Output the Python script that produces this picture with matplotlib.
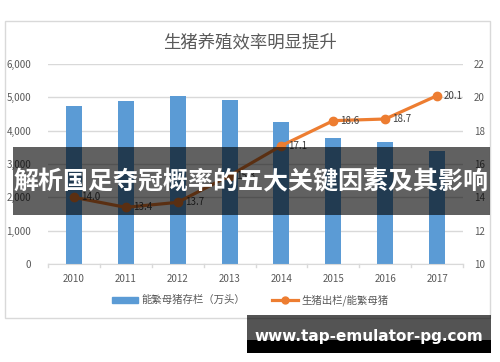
import matplotlib
matplotlib.use("Agg")
import matplotlib.pyplot as plt
from matplotlib.patches import Rectangle
from matplotlib.lines import Line2D
from matplotlib.patches import Patch

plt.rcParams['font.family'] = ['Noto Sans CJK SC', 'DejaVu Sans']

years = ['2010', '2011', '2012', '2013', '2014', '2015', '2016', '2017']
sows = [4740, 4890, 5040, 4920, 4260, 3790, 3650, 3390]
ratio = [14.0, 13.4, 13.7, 15.3, 17.1, 18.6, 18.7, 20.1]
left_ticks = [0, 1000, 2000, 3000, 4000, 5000, 6000]
right_ticks = [10, 12, 14, 16, 18, 20, 22]
title = '生猪养殖效率明显提升'
bar_label = '能繁母猪存栏（万头）'
line_label = '生猪出栏/能繁母猪'
banner = '解析国足夺冠概率的五大关键因素及其影响'
watermark = 'www.tap-emulator-pg.com'

W, H = 500, 362
fig = plt.figure(figsize=(5, 3.62), dpi=100)
fig.patch.set_facecolor('white')

def fx(px): return px / W
def fy(py): return 1 - py / H

# chart frame
fig.add_artist(Rectangle((fx(5), fy(318)), fx(490) - fx(5), fy(21) - fy(318),
                         transform=fig.transFigure, fill=False, edgecolor='#D9D9D9', lw=1))

ax = fig.add_axes([fx(48), fy(264), fx(463) - fx(48), fy(64) - fy(264)])
x = range(len(years))
ax.bar(x, sows, width=0.31, color='#5B9BD5', zorder=2)
ax.set_xlim(-0.5, len(years) - 0.5)
ax.set_ylim(0, 6000)
ax.set_yticks(left_ticks)
ax.set_yticklabels([f'{v:,}' for v in left_ticks])
ax.grid(axis='y', color='#D9D9D9', lw=1, zorder=0)
ax.set_axisbelow(True)
for s in ['top', 'left', 'right']:
    ax.spines[s].set_visible(False)
ax.spines['bottom'].set_color('#D9D9D9')
ax.tick_params(axis='y', length=0, labelsize=7, labelcolor='#595959', pad=12)
ax.set_xticks(list(x))
ax.set_xticklabels(years)
ax.tick_params(axis='x', length=0, labelsize=7, labelcolor='#595959', pad=7)
for b in [i - 0.5 for i in range(len(years) + 1)]:
    ax.plot([b, b], [0, -90], color='#D9D9D9', lw=1, clip_on=False)

ax2 = ax.twinx()
ax2.plot(list(x), ratio, color='#ED7D31', lw=2.3, marker='o', ms=6, zorder=3)
ax2.set_ylim(10, 22)
ax2.set_yticks(right_ticks)
for s in ['top', 'left', 'right', 'bottom']:
    ax2.spines[s].set_visible(False)
ax2.tick_params(axis='y', length=0, labelsize=7, labelcolor='#595959', pad=8)
for i, v in enumerate(ratio):
    ax2.annotate(f'{v}', (i, v), xytext=(5, 0), textcoords='offset points',
                 ha='left', va='center', fontsize=7, color='#404040')

fig.text(0.5, fy(42), title, ha='center', va='center', fontsize=12.5, color='#595959')

# legend
fig.legend(handles=[Patch(color='#5B9BD5'),
                    Line2D([0], [0], color='#ED7D31', lw=2.3, marker='o', ms=5)],
           labels=[bar_label, line_label], loc='center', bbox_to_anchor=(fx(250), fy(300)),
           ncol=2, frameon=False, fontsize=7.5, labelcolor='#595959',
           handlelength=2.5, handleheight=0.5, columnspacing=2.6, handletextpad=0.3)

# banner overlay
fig.add_artist(Rectangle((fx(13), fy(215)), fx(490) - fx(13), fy(147) - fy(215),
                         transform=fig.transFigure, color='black', alpha=0.62, lw=0, zorder=10))
fig.text(fx(251), fy(182), banner, ha='center', va='center', fontsize=18,
         fontweight='bold', color='white', zorder=11)

# watermark
fig.add_artist(Rectangle((fx(247), fy(340)), fx(491) - fx(247), fy(315) - fy(340),
                         transform=fig.transFigure, color='black', alpha=0.67, lw=0, zorder=10))
fig.add_artist(Rectangle((fx(247), fy(353)), fx(491) - fx(247), fy(340) - fy(353),
                         transform=fig.transFigure, color='black', lw=0, zorder=10))
fig.text(fx(369), fy(337), watermark, ha='center', va='center', fontsize=11,
         fontweight='bold', color='white', family=['DejaVu Sans'], zorder=11)

fig.savefig('out.png', dpi=100)
